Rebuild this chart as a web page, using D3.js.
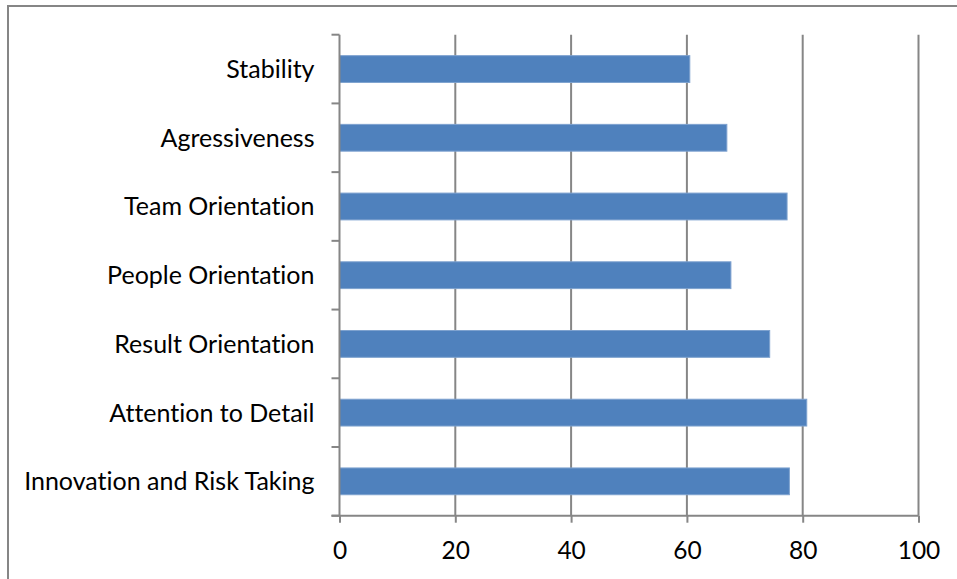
<!DOCTYPE html>
<html>
<head>
<meta charset="utf-8">
<script src="https://cdn.jsdelivr.net/npm/d3@7"></script>
<style>
  body { margin: 0; background: #fff; }
  svg { display: block; }
  text { font-family: Lato, "Open Sans", sans-serif; fill: #000; font-variant-ligatures: none; }
</style>
</head>
<body>
<div id="chart"></div>
<script>
// categories listed top to bottom as in the picture
const categories = [
    "Stability",
    "Agressiveness",
    "Team Orientation",
    "People Orientation",
    "Result Orientation",
    "Attention to Detail",
    "Innovation and Risk Taking"
];
const values = [60.5, 66.9, 77.3, 67.6, 74.3, 80.7, 77.7];
const xTicks = [0, 20, 40, 60, 80, 100];

function drawChart() {
    const width = 957, height = 579;
    const margin = {top: 34.7, right: 38.5, bottom: 63.3, left: 339.5};
    const innerW = width - margin.left - margin.right;
    const innerH = height - margin.top - margin.bottom;

    const data = categories.map(function(c, i) { return {cat: c, val: values[i]}; });

    const svg = d3.select("#chart")
        .append("svg")
        .attr("width", width)
        .attr("height", height);

    // outer chart border (runs off the right and bottom of the picture)
    svg.append("rect")
        .attr("x", 8)
        .attr("y", 6)
        .attr("width", 1000)
        .attr("height", 1000)
        .attr("fill", "none")
        .attr("stroke", "#868686")
        .attr("stroke-width", 2);

    const g = svg.append("g")
        .attr("transform", `translate(${margin.left}, ${margin.top})`);

    const xScale = d3.scaleLinear()
        .domain([0, 100])
        .range([0, innerW]);

    const yScale = d3.scaleBand()
        .domain(categories)
        .range([0, innerH])
        .paddingInner(0.61)
        .paddingOuter(0.305);

    // vertical gridlines
    g.selectAll(".grid")
        .data(xTicks.slice(1))
        .enter()
        .append("line")
        .attr("class", "grid")
        .attr("x1", function(d) { return xScale(d); })
        .attr("x2", function(d) { return xScale(d); })
        .attr("y1", 0)
        .attr("y2", innerH)
        .attr("stroke", "#868686")
        .attr("stroke-width", 2);

    // bars
    g.selectAll(".bar")
        .data(data)
        .enter()
        .append("rect")
        .attr("class", "bar")
        .attr("x", xScale(0))
        .attr("y", function(d) { return yScale(d.cat); })
        .attr("width", function(d) { return xScale(d.val) - xScale(0); })
        .attr("height", yScale.bandwidth())
        .attr("fill", "#4f81bd")
        .attr("stroke", "#7ea2cf")
        .attr("stroke-width", 1);

    // x axis
    const xAxis = g.append("g")
        .attr("transform", `translate(0, ${innerH})`)
        .call(d3.axisBottom(xScale)
            .tickValues(xTicks)
            .tickSize(7)
            .tickPadding(19)
            .tickFormat(d3.format("d")));
    xAxis.select(".domain").attr("stroke", "#868686").attr("stroke-width", 2)
        .attr("d", `M${-8},0H${innerW}`);
    xAxis.selectAll(".tick line").attr("stroke", "#868686").attr("stroke-width", 2);
    xAxis.selectAll(".tick text").style("font-size", "24.5px");

    // y axis: ticks sit on the band boundaries
    const yAxis = g.append("g");
    yAxis.append("line")
        .attr("x1", 0).attr("x2", 0)
        .attr("y1", 0).attr("y2", innerH)
        .attr("stroke", "#868686")
        .attr("stroke-width", 2);
    const step = yScale.step();
    yAxis.selectAll(".ytick")
        .data(d3.range(categories.length + 1))
        .enter()
        .append("line")
        .attr("class", "ytick")
        .attr("x1", -8).attr("x2", 0)
        .attr("y1", function(i) { return i * step; })
        .attr("y2", function(i) { return i * step; })
        .attr("stroke", "#868686")
        .attr("stroke-width", 2);
    yAxis.selectAll(".ylabel")
        .data(categories)
        .enter()
        .append("text")
        .attr("class", "ylabel")
        .attr("x", -25)
        .attr("y", function(d) { return yScale(d) + yScale.bandwidth() / 2; })
        .attr("dy", "0.36em")
        .attr("text-anchor", "end")
        .style("font-size", "25px")
        .text(function(d) { return d; });
}

drawChart();
</script>
</body>
</html>
